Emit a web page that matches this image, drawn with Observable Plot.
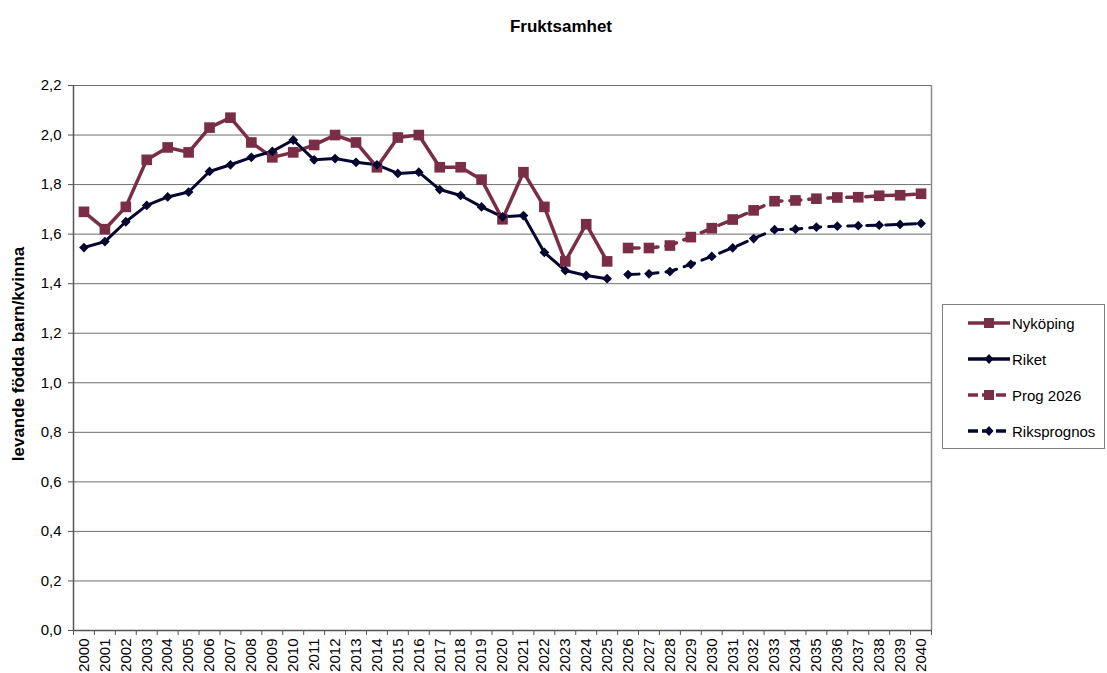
<!DOCTYPE html>
<html>
<head>
<meta charset="utf-8">
<script src="https://cdn.jsdelivr.net/npm/d3@7"></script>
<script src="https://cdn.jsdelivr.net/npm/@observablehq/plot@0.6"></script>
<style>
  body { margin: 0; background: #fff; font-family: "Liberation Sans", Arial, sans-serif; }
  #wrap { position: relative; width: 1107px; height: 673px; }
  #title { position: absolute; left: 0; width: 1122px; top: 17px; text-align: center; font-weight: bold; font-size: 17px; color: #000; }
  #legend { position: absolute; left: 942px; top: 304px; width: 163px; height: 145px; border: 1px solid #808080; box-sizing: border-box; background: #fff; }
  .li { position: absolute; left: 24px; height: 20px; display: flex; align-items: center; font-size: 15px; color: #000; }
  .li svg { margin-right: 1px; }
</style>
</head>
<body>
<div id="wrap">
  <div id="title">Fruktsamhet</div>
  <div id="chart"></div>
  <div id="legend"></div>
</div>
<script>
const histYears = d3.range(2000, 2026);
const progYears = d3.range(2026, 2041);
const tickLabels = d3.range(2000, 2041);

const nykoping = [1.69, 1.62, 1.71, 1.90, 1.95, 1.93, 2.03, 2.07, 1.97, 1.91, 1.93, 1.96, 2.00, 1.97, 1.87, 1.99, 2.00, 1.87, 1.87, 1.82, 1.66, 1.85, 1.71, 1.49, 1.64, 1.49];
const riket = [1.546, 1.57, 1.65, 1.716, 1.75, 1.77, 1.853, 1.88, 1.91, 1.934, 1.98, 1.90, 1.905, 1.89, 1.88, 1.845, 1.85, 1.78, 1.756, 1.71, 1.67, 1.675, 1.526, 1.453, 1.433, 1.42];
const prog2026 = [1.544, 1.544, 1.554, 1.588, 1.624, 1.659, 1.696, 1.733, 1.736, 1.743, 1.748, 1.749, 1.755, 1.757, 1.763];
const riksprognos = [1.437, 1.440, 1.449, 1.478, 1.510, 1.545, 1.582, 1.618, 1.620, 1.628, 1.632, 1.634, 1.636, 1.639, 1.643];

const yTicks = [0, 0.2, 0.4, 0.6, 0.8, 1.0, 1.2, 1.4, 1.6, 1.8, 2.0, 2.2];
const seriesNames = ["Nyköping", "Riket", "Prog 2026", "Riksprognos"];

const MAROON = "#7a2e46";
const NAVY = "#050530";

const toRows = (years, vals) => years.map((y, i) => ({ year: y, value: vals[i] }));
const nyk = toRows(histYears, nykoping);
const rik = toRows(histYears, riket);
const prg = toRows(progYears, prog2026);
const rpr = toRows(progYears, riksprognos);
const boundaries = d3.range(tickLabels[0] - 0.5, tickLabels[tickLabels.length - 1] + 1, 1);
const fmt = d => d.toFixed(1).replace(".", ",");

const chart = Plot.plot({
  width: 1107,
  height: 673,
  marginLeft: 73,
  marginRight: 176,
  marginTop: 85,
  marginBottom: 43,
  style: { fontFamily: "Liberation Sans, Arial, sans-serif", fontSize: "15px", color: "#000", background: "#fff" },
  x: { domain: [1999.5, 2040.5] },
  y: { domain: [0, 2.2] },
  marks: [
    Plot.gridY(yTicks, { stroke: "#6e6e6e", strokeOpacity: 1, strokeWidth: 1 }),
    Plot.ruleX([2040.5], { stroke: "#8c8c8c", strokeWidth: 1.5 }),
    Plot.ruleX([1999.5], { stroke: "#555", strokeWidth: 1.5 }),
    Plot.ruleY([0], { stroke: "#555", strokeWidth: 1.5 }),
    Plot.axisY(yTicks, { tickFormat: fmt, tickSize: 5, tickPadding: 7, stroke: "#555", fontSize: 15, label: null }),
    Plot.axisX(boundaries, { tickSize: 5, tickFormat: () => "", stroke: "#555", label: null }),
    Plot.axisX(tickLabels, { tickSize: 0, tickPadding: 8, tickRotate: -90, tickFormat: d => String(d), fontSize: 15, label: null }),
    Plot.text(["levande födda barn/kvinna"], { frameAnchor: "left", textAnchor: "middle", dx: -55, dy: -4, rotate: -90, fontWeight: "bold", fontSize: 17 }),
    Plot.line(nyk, { x: "year", y: "value", stroke: MAROON, strokeWidth: 3.5 }),
    Plot.line(rik, { x: "year", y: "value", stroke: NAVY, strokeWidth: 3 }),
    Plot.line(prg, { x: "year", y: "value", stroke: MAROON, strokeWidth: 3.5, strokeDasharray: "11,8" }),
    Plot.line(rpr, { x: "year", y: "value", stroke: NAVY, strokeWidth: 3, strokeDasharray: "11,8" }),
    Plot.dot(nyk, { x: "year", y: "value", symbol: "square", r: 6, fill: MAROON, stroke: "none" }),
    Plot.dot(prg, { x: "year", y: "value", symbol: "square", r: 6, fill: MAROON, stroke: "none" }),
    Plot.dot(rik, { x: "year", y: "value", symbol: "diamond2", r: 4.4, fill: NAVY, stroke: "none" }),
    Plot.dot(rpr, { x: "year", y: "value", symbol: "diamond2", r: 4.4, fill: NAVY, stroke: "none" })
  ]
});
document.getElementById("chart").appendChild(chart);

// Legend
const legend = document.getElementById("legend");
const styles = [
  { color: MAROON, dash: null, sym: "square" },
  { color: NAVY, dash: null, sym: "diamond" },
  { color: MAROON, dash: "10,4", sym: "square" },
  { color: NAVY, dash: "10,4", sym: "diamond" }
];
seriesNames.forEach((name, i) => {
  const s = styles[i];
  const div = document.createElement("div");
  div.className = "li";
  div.style.top = (8 + i * 36) + "px";
  const marker = s.sym === "square"
    ? `<rect x="17" y="4" width="10" height="10" fill="${s.color}"/>`
    : `<path d="M22,4 L26.5,9 L22,14 L17.5,9 Z" fill="${s.color}"/>`;
  div.innerHTML = `<svg width="44" height="18"><line x1="1" x2="43" y1="9" y2="9" stroke="${s.color}" stroke-width="3.5" ${s.dash ? `stroke-dasharray="${s.dash}"` : ""}/>${marker}</svg><span>${name}</span>`;
  legend.appendChild(div);
});
</script>
</body>
</html>
